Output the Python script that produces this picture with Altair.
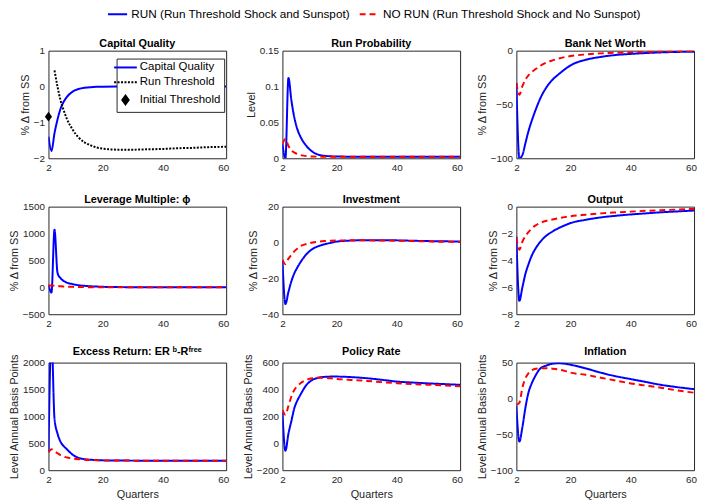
import altair as alt
import pandas as pd

FONT = "Liberation Sans"
BLUE = "#0000FF"
RED = "#FF0000"
AXC = "#262626"

RUN = "RUN (Run Threshold Shock and Sunspot)"
NORUN = "NO RUN (Run Threshold Shock and No Sunspot)"

Q = [2, 3, 4, 5, 6, 7, 8, 10, 12, 14, 16, 18, 20, 25, 30, 35, 40, 45, 50, 55, 61]
QT = [4, 5, 6, 7, 8, 10, 12, 14, 16, 18, 20, 25, 30, 35, 40, 45, 50, 55, 61]
X_TICKS = [2, 20, 40, 60]

# Panel 1: capital quality and run threshold
cap_quality = [-1.4, -1.8, -1.3, -0.92, -0.62, -0.43, -0.3, -0.14, -0.07, -0.035, -0.017,
               -0.008, -0.004, 0, 0, 0, 0, 0, 0, 0, 0]
run_threshold = [0.45, 0.0, -0.38, -0.65, -0.88, -1.2, -1.42, -1.56, -1.64, -1.7, -1.73,
                 -1.76, -1.76, -1.75, -1.74, -1.72, -1.71, -1.69, -1.68]
init_q = [2]
init_v = [-0.84]

run_prob_run = [0.02, 0.0, 0.112, 0.08, 0.056, 0.04, 0.03, 0.017, 0.009, 0.005, 0.0035,
                0.0028, 0.0025, 0.0022, 0.002, 0.002, 0.002, 0.002, 0.002, 0.002, 0.002]
run_prob_norun = [0.02, 0.027, 0.017, 0.011, 0.008, 0.006, 0.0045, 0.003, 0.0025, 0.0022,
                  0.002, 0.002, 0.002, 0.002, 0.002, 0.002, 0.002, 0.002, 0.002, 0.002, 0.002]

nw_run = [-30, -100, -97, -86, -75, -66, -58, -44, -34, -27, -22, -17.5, -13.6, -8.5, -5.8,
          -4, -3, -2.2, -1.6, -1.2, -0.9]
nw_norun = [-30, -41, -33, -27, -23, -20, -18, -14, -11, -9, -7.3, -6, -5, -3.5, -2.5, -1.9,
            -1.5, -1.1, -0.8, -0.5, -0.2]

lev_run = [50, -95, 1070, 270, 170, 120, 90, 60, 40, 28, 20, 15, 10, 5, 3, 2, 1, 0, 0, 0, 0]
lev_norun = [30, 35, 30, 25, 20, 16, 13, 9, 6, 4, 3, 2, 1.5, 1, 0.5, 0, 0, 0, 0, 0, 0]

inv_run = [-10, -34.3, -27.5, -21.5, -17, -13.8, -11, -6.5, -3.6, -2, -1, -0.2, 0.5, 1.1,
           1.3, 1.3, 1.2, 1.0, 0.8, 0.7, 0.5]
inv_norun = [-9.5, -12, -9, -6.8, -4.8, -3.3, -2, -0.8, 0, 0.5, 0.8, 1.0, 1.1, 1.2, 1.2, 1.1,
             1.0, 0.8, 0.6, 0.45, 0.3]

out_run = [-2.23, -7.0, -6.0, -5.0, -4.3, -3.7, -3.25, -2.6, -2.15, -1.85, -1.6, -1.4, -1.22,
           -0.98, -0.8, -0.68, -0.58, -0.5, -0.42, -0.36, -0.29]
out_norun = [-2.3, -3.2, -2.6, -2.2, -1.9, -1.65, -1.45, -1.2, -1.05, -0.95, -0.86, -0.78,
             -0.71, -0.6, -0.5, -0.43, -0.37, -0.31, -0.27, -0.22, -0.17]

er_run = [345, 2500, 960, 680, 530, 450, 395, 290, 230, 205, 195, 188, 183, 180, 178, 177,
          176, 176, 175, 175, 175]
er_norun = [327, 390, 350, 315, 280, 255, 238, 218, 205, 196, 190, 186, 183, 180, 178, 177,
            176, 176, 175, 175, 175]

pr_run = [229, -55, 72, 168, 265, 320, 362, 435, 472, 488, 494, 496, 496, 492, 484, 472, 459,
          452, 446, 441, 435]
pr_norun = [248, 212, 278, 350, 399, 425, 447, 472, 484, 488, 487, 484, 479, 471, 464, 455,
            447, 441, 436, 431, 425]

inf_run = [-10.5, -60, -40, -13, 8, 20, 29, 42, 46, 48.5, 49, 48.5, 47, 42, 36, 31, 27, 23,
           19, 16, 13]
inf_norun = [-9, -6, 15, 28, 35, 38.5, 41, 42, 42, 41.5, 40.5, 38.5, 36, 33, 29, 25, 21, 18,
             15, 11.5, 8]

W, H = 180, 109

# legend symbol shapes (unit square scaled by sqrt(symbolSize)/2)
TOP_SYM = "M-2.15,0L2.15,0"
LINE_PATH = "M-2.3,0L2.3,0"
DOT_PATH = "".join(
    "M{:.2f},0L{:.2f},0".format(-2.3 + i * 0.7, -2.3 + i * 0.7 + 0.4) for i in range(7)
)
DIAMOND = "M0,-0.88L0.64,0L0,0.88L-0.64,0Z"

top_leg = alt.Legend(orient="none", legendX=64, legendY=-43, direction="horizontal",
                     title=None, symbolType=TOP_SYM, symbolSize=81, symbolStrokeWidth=2,
                     labelFont=FONT, labelFontSize=11.9, labelColor="black", labelOffset=8,
                     columnPadding=5, labelLimit=400, padding=0)


def xenc(title=None):
    return alt.X("q:Q", scale=alt.Scale(domain=[2, 61], nice=False, zero=False),
                 axis=alt.Axis(values=X_TICKS, title=title, titlePadding=5))


def yenc(dom, ticks, title, fmt="d"):
    return alt.Y("v:Q", scale=alt.Scale(domain=dom, nice=False, zero=False),
                 axis=alt.Axis(values=ticks, title=title, format=fmt))


def panel(title, run, norun, dom, ticks, ytitle, xtitle=None, fmt="d"):
    n = len(Q)
    df = pd.DataFrame({"q": Q + Q, "v": run + norun, "s": [RUN] * n + [NORUN] * n})
    cs = alt.Scale(domain=[RUN, NORUN], range=[BLUE, RED])
    ds = alt.Scale(domain=[RUN, NORUN], range=[[1, 0], [6, 4]])
    return alt.Chart(df, title=alt.Title(title)).mark_line(
        strokeWidth=2, interpolate="monotone", clip=True
    ).encode(
        x=xenc(xtitle),
        y=yenc(dom, ticks, ytitle, fmt),
        color=alt.Color("s:N", scale=cs, legend=top_leg),
        strokeDash=alt.StrokeDash("s:N", scale=ds, legend=top_leg),
    ).properties(width=W, height=H)


# Panel 1
items = ["Capital Quality", "Run Threshold", "Initial Threshold"]
cq_df = pd.DataFrame({"q": Q, "v": cap_quality, "item": [items[0]] * len(Q)})
th_df = pd.DataFrame({"q": QT, "v": run_threshold, "item": [items[1]] * len(QT)})
pt_df = pd.DataFrame({"q": init_q, "v": init_v, "item": [items[2]]})
leg1 = alt.Legend(orient="none", legendX=69, legendY=8, title=None, fillColor="white",
                  strokeColor=AXC, padding=3, rowPadding=3, symbolSize=100,
                  symbolStrokeWidth=2, symbolFillColor="black", labelFont=FONT,
                  labelFontSize=11.6, labelColor="black", labelOffset=8.5, labelLimit=200)
stroke1 = alt.Stroke("item:N", scale=alt.Scale(domain=items, range=[BLUE, "black", "black"]),
                     legend=leg1)
shape1 = alt.Shape("item:N", scale=alt.Scale(domain=items, range=[LINE_PATH, DOT_PATH, DIAMOND]),
                   legend=leg1)
y1 = yenc([-2, 1], [-2, -1, 0, 1], "% Δ from SS")
cq_line = alt.Chart(cq_df).mark_line(strokeWidth=2, interpolate="monotone", clip=True).encode(
    x=xenc(), y=y1, stroke=stroke1)
th_line = alt.Chart(th_df).mark_line(strokeWidth=2, interpolate="monotone", clip=True,
                                     strokeDash=[2, 1.5]).encode(x=xenc(), y=y1, stroke=stroke1)
pts1 = alt.Chart(pt_df).mark_point(filled=True, color="black", size=129, opacity=1).encode(
    x=xenc(), y=y1, shape=shape1)
p1 = alt.layer(cq_line, th_line, pts1, title=alt.Title("Capital Quality")).properties(
    width=W, height=H)

p2 = panel("Run Probability", run_prob_run, run_prob_norun, [0, 0.15], [0, 0.05, 0.1, 0.15],
           "Level", fmt=".2~f")
p3 = panel("Bank Net Worth", nw_run, nw_norun, [-100, 0], [-100, -50, 0], "% Δ from SS")
p4 = panel("Leverage Multiple:  ϕ", lev_run, lev_norun, [-500, 1500],
           [-500, 0, 500, 1000, 1500], "% Δ from SS")
p5 = panel("Investment", inv_run, inv_norun, [-40, 20], [-40, -20, 0, 20], "% Δ from SS")
p6 = panel("Output", out_run, out_norun, [-8, 0], [-8, -6, -4, -2, 0], "% Δ from SS")
p7 = panel("Excess Return: ER ᵇ-Rᶠʳᵉᵉ", er_run, er_norun, [0, 2000],
           [0, 500, 1000, 1500, 2000], "Level Annual Basis Points", xtitle="Quarters")
p8 = panel("Policy Rate", pr_run, pr_norun, [-200, 600], [-200, 0, 200, 400, 600],
           "Level Annual Basis Points", xtitle="Quarters")
p9 = panel("Inflation", inf_run, inf_norun, [-100, 50], [-100, -50, 0, 50],
           "Level Annual Basis Points", xtitle="Quarters")

chart = alt.concat(p1, p2, p3, p4, p5, p6, p7, p8, p9, columns=3,
                   spacing={"column": 57, "row": 49}, bounds="flush").resolve_scale(
    color="shared", strokeDash="shared", stroke="independent", shape="independent"
).properties(
    padding={"left": -1, "top": -3, "right": 0, "bottom": 0}, background="white"
).configure_axis(
    labelFont=FONT, labelFontSize=10, labelColor=AXC, titleFont=FONT, titleFontSize=11,
    titleFontWeight="normal", titleColor=AXC, domain=False, ticks=False, grid=False,
    labelPadding=4, titlePadding=3, labelFlush=False
).configure_view(stroke=AXC, strokeWidth=1).configure_title(
    font=FONT, fontSize=11, fontWeight="bold", color="black", offset=-3, anchor="middle"
)

chart.save("out.html", embed_options={"renderer": "svg", "actions": False})
